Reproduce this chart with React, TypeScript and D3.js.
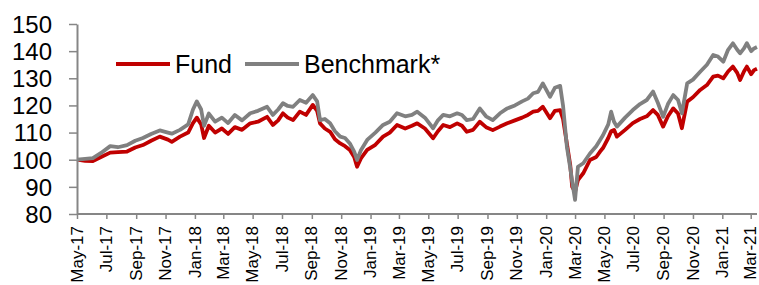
import { useEffect, useRef } from "react";
import * as d3 from "d3";

// weekly-ish readings (rebased to 100)
const dates = [
  "2017-05-01", "2017-05-18", "2017-06-03", "2017-06-20", "2017-07-09", "2017-07-25", "2017-08-13", "2017-08-30",
  "2017-09-15", "2017-10-02", "2017-10-20", "2017-11-06", "2017-11-14", "2017-12-01", "2017-12-18", "2017-12-28",
  "2018-01-05", "2018-01-14", "2018-01-20", "2018-01-30", "2018-02-12", "2018-02-26", "2018-03-11", "2018-03-25",
  "2018-04-09", "2018-04-26", "2018-05-12", "2018-05-31", "2018-06-12", "2018-06-23", "2018-07-03", "2018-07-13",
  "2018-07-24", "2018-08-07", "2018-08-20", "2018-09-03", "2018-09-12", "2018-09-18", "2018-09-28", "2018-10-09",
  "2018-10-19", "2018-10-30", "2018-11-09", "2018-11-19", "2018-11-28", "2018-12-04", "2018-12-12", "2018-12-25",
  "2019-01-11", "2019-01-27", "2019-02-10", "2019-02-25", "2019-03-14", "2019-03-28", "2019-04-08", "2019-04-24",
  "2019-05-11", "2019-05-21", "2019-06-01", "2019-06-15", "2019-06-30", "2019-07-10", "2019-07-20", "2019-08-02",
  "2019-08-16", "2019-08-29", "2019-09-12", "2019-09-27", "2019-10-12", "2019-10-28", "2019-11-12", "2019-11-24",
  "2019-12-05", "2019-12-15", "2019-12-25", "2020-01-09", "2020-01-19", "2020-01-30", "2020-02-05", "2020-02-13",
  "2020-02-20", "2020-02-24", "2020-03-01", "2020-03-07", "2020-03-18", "2020-04-01", "2020-04-14", "2020-04-22",
  "2020-04-28", "2020-05-09", "2020-05-15", "2020-05-21", "2020-05-27", "2020-06-13", "2020-06-29", "2020-07-14",
  "2020-07-28", "2020-08-10", "2020-08-20", "2020-08-31", "2020-09-10", "2020-09-21", "2020-10-01", "2020-10-09",
  "2020-10-20", "2020-11-01", "2020-11-16", "2020-11-30", "2020-12-13", "2020-12-23", "2021-01-03", "2021-01-13",
  "2021-01-23", "2021-02-01", "2021-02-07", "2021-02-15", "2021-02-21", "2021-03-02", "2021-03-08", "2021-03-14",
];

const fund = [
  100, 99.6, 99.5, 101, 102.6, 102.8, 103, 104.5,
  105.4, 107, 108.5, 107.4, 106.6, 108.5, 110, 113.5,
  115.5, 113, 108, 112.5, 110, 111.5, 109.5, 112,
  111, 113.4, 114, 115.8, 112.8, 114.5, 117.1, 115.5,
  114.6, 117.7, 116.5, 120.2, 118, 113.4, 111.5, 110.3,
  107.5, 106, 105, 103.6, 101, 97.4, 100.5, 103.6,
  105.5, 108.5, 110, 112.8, 111.5, 112.5, 113.4, 111.5,
  107.9, 110.5, 112.8, 112, 113.4, 112.5, 110.3, 111,
  114, 112, 110.9, 112.2, 113.4, 114.5, 115.5, 116.5,
  117.7, 118, 119.5, 115.3, 118, 118.3, 115, 106,
  98, 90, 88.2, 92.5, 95, 99.9, 101, 103,
  104.3, 108, 110.5, 111, 108.5, 111, 113.5, 115,
  116, 118.3, 116.5, 112.2, 116, 118.9, 117, 111.6,
  121.4, 123, 125.7, 127.5, 130.6, 131, 130, 132.5,
  134.3, 132, 129.4, 132.5, 134.3, 131.5, 133, 133.5,
];

const benchmark = [
  100, 100.3, 100.6, 102.5, 105, 104.6, 105.4, 107,
  108, 109.5, 110.8, 110, 109.6, 111, 113, 118.5,
  121.5, 118.5, 112.5, 117, 114, 115.5, 113.5, 116.5,
  114.5, 117.1, 118, 119.5, 116.5, 118.5, 120.8, 119.8,
  119.5, 122, 121, 123.8, 121.5, 114.6, 115, 113.4,
  110.5, 108.5, 108, 106, 103, 99.9, 103.5, 107.3,
  110, 112.8, 114, 117.1, 116, 116.5, 117.7, 115.5,
  111.6, 114.5, 116.5, 116, 117.1, 116.5, 114.6, 115,
  118.9, 116, 114.6, 117.1, 118.9, 120, 121.5, 122.5,
  124.5, 125, 128.1, 123.2, 126.5, 127.2, 120, 104.8,
  97, 92, 85.2, 97.4, 98.7, 102.3, 105, 107.3,
  109, 113, 117.7, 114, 112.2, 115.5, 118.3, 120.5,
  122, 125.1, 121, 115.8, 120.5, 123.8, 122, 117.1,
  128.1, 129.5, 132.4, 135, 138.6, 138, 136.1, 140.5,
  142.9, 140.5, 139.2, 141, 142.9, 140, 141, 141.5,
];

const yTicks = [80, 90, 100, 110, 120, 130, 140, 150];
const xTickStart = "2017-05-01";
const xTickEnd = "2021-03-01";

const series = [
  { name: "Fund", values: fund, color: "#c00000" },
  { name: "Benchmark*", values: benchmark, color: "#808080" },
];

const App = () => {
  const ref = useRef<SVGSVGElement | null>(null);

  useEffect(() => {
    drawChart();
  }, []);

  const drawChart = () => {
    const svg = d3.select(ref.current);
    svg.selectAll("*").remove();

    const parse = d3.utcParse("%Y-%m-%d");
    const x0 = 77;
    const x1 = 750.7;
    const yTop = 24;
    const yBottom = 214;
    const font = "'Liberation Sans', Arial, sans-serif";
    const axisColor = "#868686";

    const xScale = d3.scaleUtc().domain([parse(xTickStart), parse(xTickEnd)]).range([x0, x1]);
    const yScale = d3.scaleLinear().domain([80, 150]).range([yBottom, yTop]);

    // 선
    const line = d3
      .line<number>()
      .x((_, i) => xScale(parse(dates[i])))
      .y((d) => yScale(d))
      .curve(d3.curveLinear);

    series.forEach((s) => {
      svg
        .append("path")
        .attr("d", line(s.values))
        .attr("fill", "none")
        .attr("stroke", s.color)
        .attr("stroke-width", 3.8)
        .attr("stroke-linejoin", "round");
    });

    // Y axis
    const yAxis = svg
      .append("g")
      .attr("transform", `translate(${x0},0)`)
      .call(d3.axisLeft(yScale).tickValues(yTicks).tickSize(8).tickSizeOuter(0).tickPadding(17))
      .style("color", axisColor);
    yAxis.select(".domain").attr("stroke-width", 2);
    yAxis.selectAll("line").attr("stroke-width", 1.5);
    yAxis
      .selectAll("text")
      .style("font-family", font)
      .style("font-size", "24px")
      .attr("fill", "#000")
      .attr("dy", "0.35em");

    // X axis
    const xTickDates = d3.utcMonth.every(2).range(parse(xTickStart), d3.utcDay.offset(parse(xTickEnd), 1));
    const xAxis = svg
      .append("g")
      .attr("transform", `translate(0,${yBottom})`)
      .call(
        d3
          .axisBottom(xScale)
          .tickValues(xTickDates)
          .tickSize(5)
          .tickSizeOuter(0)
          .tickFormat((d) => d3.utcFormat("%b-%y")(d as Date))
      )
      .style("color", axisColor);
    xAxis.select(".domain").attr("d", `M${x0},0H757`).attr("stroke-width", 2);
    xAxis.selectAll("line").attr("stroke-width", 1.5);
    xAxis
      .selectAll("text")
      .style("font-family", font)
      .style("font-size", "17px")
      .attr("fill", "#000")
      .attr("text-anchor", "end")
      .attr("transform", "rotate(-90)")
      .attr("x", -12)
      .attr("y", 0)
      .attr("dy", "0.3em");

    // legend
    const legend = svg.append("g").attr("transform", "translate(116,64)");
    const offsets = [0, 129];
    series.forEach((s, i) => {
      const g = legend.append("g").attr("transform", `translate(${offsets[i]},0)`);
      g.append("line").attr("x1", 0).attr("x2", 54).attr("stroke", s.color).attr("stroke-width", 3.8);
      g.append("text")
        .attr("x", 59)
        .attr("y", 0)
        .attr("dy", "0.35em")
        .style("font-family", font)
        .style("font-size", "25px")
        .attr("fill", "#000")
        .text(s.name);
    });
  };

  return (
    <svg
      ref={ref}
      width={759}
      height={285}
      style={{ position: "absolute", left: 0, top: 0, background: "#fff" }}
    />
  );
};

export default App;
